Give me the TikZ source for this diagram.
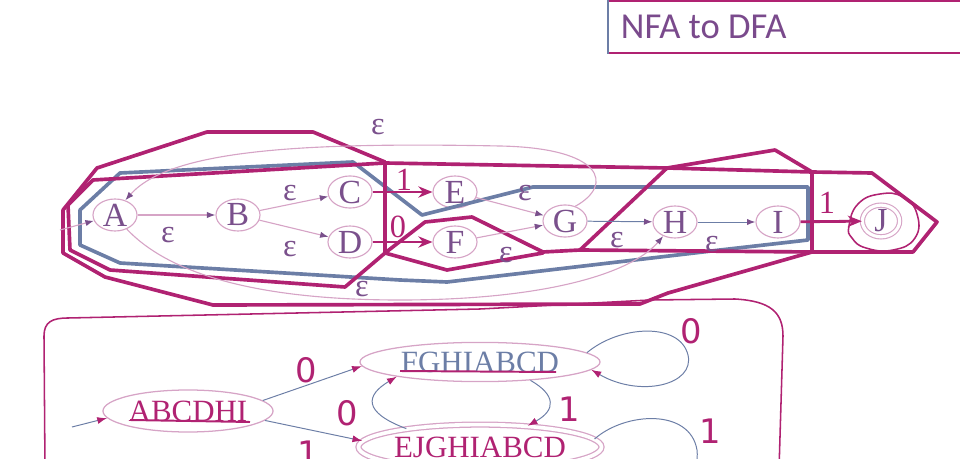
\documentclass[tikz,border=0pt]{standalone}
\usepackage{fontspec}
\setmainfont{Liberation Serif}
\newfontfamily\digitfont{DejaVu Sans}
\newfontfamily\titlefont{Carlito}
\usetikzlibrary{arrows.meta,shapes.geometric}
\definecolor{magline}{RGB}{176,34,114}
\definecolor{paleline}{RGB}{214,164,198}
\definecolor{slateline}{RGB}{108,126,166}
\definecolor{stateink}{RGB}{122,80,140}
\definecolor{titleink}{RGB}{122,74,140}

\begin{document}
\begin{tikzpicture}[
        x=0.025cm, y=-0.025cm,
        nfa_state/.style={ellipse, draw=paleline, line width=0.8pt, minimum width=1.1cm, minimum height=0.8cm, inner sep=0pt, text=stateink, font=\fontsize{24}{24}\selectfont},
        nfa_final/.style={nfa_state, minimum width=0.93cm, minimum height=0.72cm, double=white, double distance=2.2pt},
        dfa_state/.style={ellipse, draw=paleline, line width=0.9pt, inner sep=0pt, font=\fontsize{22}{22}\selectfont},
        dfa_final/.style={dfa_state, double=white, double distance=2.6pt},
        nfa_edge/.style={draw=paleline, line width=0.8pt, -{Latex[length=6pt, width=4.5pt, color=stateink]}},
        nfa_blue_edge/.style={draw=slateline, line width=0.7pt, -{Latex[length=6pt, width=4.5pt, color=stateink]}},
        nfa_mag_edge/.style={draw=magline, line width=2pt, -{Stealth[length=10pt, width=8pt]}},
        dfa_edge/.style={draw=slateline, line width=0.7pt, -{Latex[length=7pt, width=5pt, color=magline]}},
        eps_label/.style={text=stateink, inner sep=0pt, font=\fontsize{23}{23}\selectfont},
        nfa_digit/.style={text=magline, inner sep=0pt, font=\fontsize{23}{23}\selectfont},
        dfa_digit/.style={text=magline, inner sep=0pt, font=\digitfont\fontsize{24}{24}\selectfont},
        region_mag/.style={draw=magline, line width=2.6pt, line join=round, line cap=round},
        region_blue/.style={draw=slateline, line width=2.6pt, line join=round, line cap=round}
    ]
        \useasboundingbox (0,0) rectangle (960,459);

        % Title box
        \draw[magline, line width=1.2pt] (608,1) -- (962,1);
        \draw[magline, line width=1.2pt] (608,53) -- (962,53);
        \draw[slateline, line width=1.2pt] (608,0) -- (608,54);
        \node[anchor=west, text=titleink, font=\titlefont\fontsize{26}{26}\selectfont] (title) at (616,27) {NFA to DFA};

        % NFA states
        \node[nfa_state] (nfa_A) at (115,215) {A};
        \node[nfa_state] (nfa_B) at (238,215) {B};
        \node[nfa_state] (nfa_C) at (350,192) {C};
        \node[nfa_state] (nfa_D) at (350,242) {D};
        \node[nfa_state] (nfa_E) at (455,192) {E};
        \node[nfa_state] (nfa_F) at (455,242) {F};
        \node[nfa_state] (nfa_G) at (565,221) {G};
        \node[nfa_state] (nfa_H) at (675,222) {H};
        \node[nfa_state] (nfa_I) at (778,222) {I};
        \node[nfa_final] (nfa_J) at (881,221) {J};
        \draw[magline, line width=1.1pt] plot[smooth cycle, tension=0.8] coordinates {(849,226) (858,204) (880,194) (903,197) (917,214) (915,238) (893,250) (866,248) (852,238)};

        % Closures: blue = FGHIABCD
        \draw[region_blue] (80,210) -- (120,173) -- (353,162) -- (422,215) -- (533,187) -- (808,187) -- (808,240) -- (720,250) -- (447,282) -- (400,280) -- (120,263) -- (80,245) -- cycle;

        % Closures: magenta
        \draw[region_mag] (63,210) -- (97,168) -- (207,132) -- (313,132) -- (385,162);
        \draw[region_mag] (63,210) -- (63,253) -- (105,277) -- (213,305) -- (640,304) -- (668,293) -- (812,252);
        \draw[region_mag] (68,205) -- (93,180) -- (385,163) -- (667,168) -- (812,172) -- (872,173) -- (937,222) -- (913,252) -- (812,252) -- (580,250) -- (543,252);
        \draw[region_mag] (68,205) -- (70,250) -- (110,270) -- (345,287) -- (385,253) -- (385,163);
        \draw[region_mag] (667,168) -- (775,150) -- (812,172) -- (812,252);
        \draw[region_mag] (667,168) -- (580,250);
        \draw[region_mag] (385,253) -- (425,222) -- (472,217) -- (543,252);
        \draw[region_mag] (385,253) -- (447,270) -- (543,253);

        % NFA transitions
        \coordinate (nfa_entry) at (60,230);
        \coordinate (arc_top) at (500,146);
        \coordinate (arc_bot) at (400,300);
        \draw[nfa_edge] (nfa_entry) -- (nfa_A);
        \draw[nfa_edge] (nfa_A) -- (nfa_B);
        \draw[nfa_edge] (nfa_B) -- (nfa_C);
        \draw[nfa_edge] (nfa_B) -- (nfa_D);
        \draw[nfa_mag_edge] (nfa_C) -- (nfa_E);
        \draw[nfa_mag_edge] (nfa_D) -- (nfa_F);
        \draw[nfa_edge] (nfa_E) -- (nfa_G);
        \draw[nfa_edge] (nfa_F) -- (nfa_G);
        \draw[nfa_blue_edge] (nfa_G) -- (nfa_H);
        \draw[nfa_blue_edge] (nfa_H) -- (nfa_I);
        \draw[nfa_mag_edge] (nfa_I) -- (nfa_J);
        \draw[nfa_edge] (nfa_G.55) .. controls (614,185) and (604,148) .. (arc_top) .. controls (300,142) and (170,150) .. (nfa_A.55);
        \draw[nfa_edge] (nfa_A.-50) .. controls (170,275) and (260,300) .. (arc_bot) .. controls (540,300) and (630,275) .. (nfa_H.-130);

        % NFA labels
        \node[eps_label] (eps_ab) at (168,235) {ε};
        \node[eps_label] (eps_bc) at (290,193) {ε};
        \node[eps_label] (eps_bd) at (290,249) {ε};
        \node[eps_label] (eps_eg) at (525,193) {ε};
        \node[eps_label] (eps_fg) at (506,255) {ε};
        \node[eps_label] (eps_gh) at (617,240) {ε};
        \node[eps_label] (eps_hi) at (712,244) {ε};
        \node[eps_label] (eps_ga) at (378,127) {ε};
        \node[eps_label] (eps_ah) at (362,289) {ε};
        \node[nfa_digit] (one_ce) at (404,180) {1};
        \node[nfa_digit] (zero_df) at (398,227) {0};
        \node[nfa_digit] (one_ij) at (827,203) {1};

        % DFA box
        \draw[magline, line width=1.1pt] (45,470) -- (44,336) .. controls (44,322) and (52,318) .. (68,318) -- (480,309) -- (650,300) -- (735,299) .. controls (770,301) and (783,312) .. (783,336) -- (779,470);

        % DFA states
        \node[dfa_state, minimum width=4.25cm, minimum height=1.05cm, text=magline] (dfa_abcdhi) at (188,411) {ABCDHI};
        \node[dfa_state, minimum width=6cm, minimum height=0.98cm, text=slateline] (dfa_fghi) at (480,362) {FGHIABCD};
        \node[dfa_final, minimum width=5.9cm, minimum height=1.12cm, text=magline] (dfa_ejg) at (480,447) {EJGHIABCD};
        \draw[magline, line width=1.4pt] (130,420) -- (250,422);
        \draw[magline, line width=1.4pt] (400,371) -- (556,372);

        % DFA transitions
        \coordinate (dfa_entry) at (72,427);
        \coordinate (loop0_tip) at (688,355);
        \coordinate (loop1_tip) at (697,450);
        \draw[dfa_edge] (dfa_entry) -- (dfa_abcdhi.185);
        \draw[dfa_edge] (dfa_abcdhi.8) -- (dfa_fghi.182);
        \draw[dfa_edge] (dfa_abcdhi.-7) -- (dfa_ejg.177);
        \draw[dfa_edge] (dfa_ejg.166) .. controls (362,412) and (366,395) .. (dfa_fghi.190);
        \draw[dfa_edge] (dfa_fghi.-20) .. controls (556,395) and (556,410) .. (dfa_ejg.24);
        \draw[dfa_edge] (dfa_fghi.5) .. controls (620,325) and (680,322) .. (loop0_tip) .. controls (695,385) and (640,398) .. (dfa_fghi.-4);
        \draw[dfa_edge] (dfa_ejg.4) .. controls (625,412) and (690,408) .. (loop1_tip) .. controls (702,495) and (640,495) .. (dfa_ejg.-30);

        % DFA labels
        \node[dfa_digit] (lbl_a0) at (306,370) {0};
        \node[dfa_digit] (lbl_a1) at (308,453) {1};
        \node[dfa_digit] (lbl_e0) at (347,413) {0};
        \node[dfa_digit] (lbl_f1) at (569,409) {1};
        \node[dfa_digit] (lbl_f0) at (691,331) {0};
        \node[dfa_digit] (lbl_e1) at (710,431) {1};
    \end{tikzpicture}
\end{document}
